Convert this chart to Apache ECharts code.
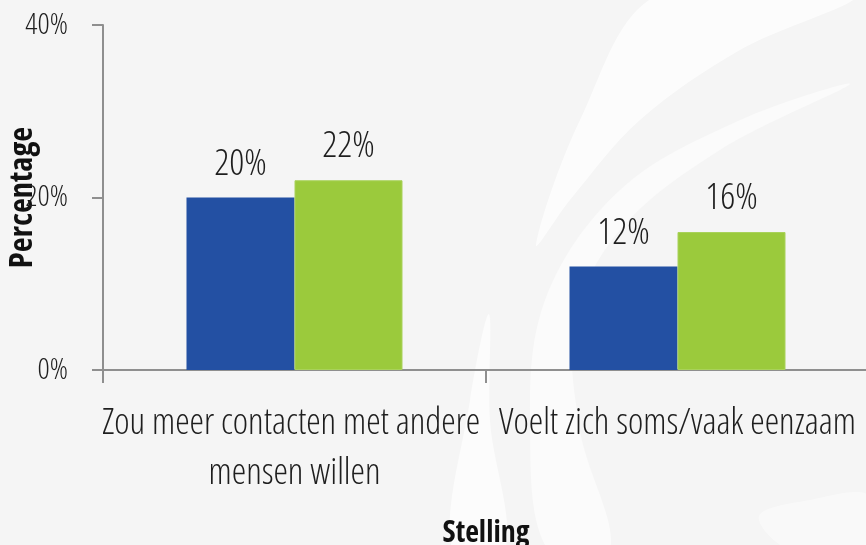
<!DOCTYPE html>
<html>
<head>
<meta charset="utf-8">
<script src="https://cdn.jsdelivr.net/npm/echarts@6/dist/echarts.min.js"></script>
<style>
  html, body { margin: 0; padding: 0; background: #f5f5f5; }
  #chart { width: 866px; height: 545px; }
</style>
</head>
<body>
<div id="chart"></div>
<script>
// categorieën en waarden (percentages)
const categories = ['Zou meer contacten met andere mensen willen', 'Voelt zich soms/vaak eenzaam'];
const blueValues = [20, 12];
const greenValues = [22, 16];
const yTicks = [0, 20, 40];

// Open Sans, smal gezet (condensed) via de font-shorthand
const FONT = '"Open Sans", sans-serif';
const LIGHT = '300 condensed';
const BOLD = 'bold condensed';
const TEXT = '#1e1e1e';
const AXIS = '#8f8f8f';

const chart = echarts.init(document.getElementById('chart'));

// vage achtergrond-watermerk
function swoosh(points, opacity) {
    return {
        type: 'polygon', z: -10, silent: true,
        shape: { points: points, smooth: 0.35 },
        style: { fill: '#ffffff', opacity: opacity }
    };
}

const option = {
    backgroundColor: '#f5f5f5',
    animation: false,
    graphic: [
        swoosh([[658, -5], [855, -5], [740, 50], [640, 120], [570, 200], [536, 245], [580, 120]], 0.7),
        swoosh([[850, 84], [720, 150], [620, 230], [575, 320], [580, 430], [610, 550], [548, 550], [530, 430], [545, 300], [620, 190], [740, 120]], 0.55),
        swoosh([[489, 314], [470, 400], [452, 550], [505, 550], [490, 420]], 0.65),
        swoosh([[759, 516], [810, 500], [870, 496], [870, 550], [790, 550]], 0.45)
    ],
    grid: {
        left: 103,
        right: -3,
        top: 25,
        bottom: 175,
        containLabel: false,
        outerBoundsMode: 'none'
    },
    xAxis: {
        type: 'category',
        data: categories,
        name: 'Stelling',
        nameLocation: 'middle',
        nameGap: 148,
        nameMoveOverlap: false,
        nameTextStyle: { fontFamily: FONT, fontWeight: BOLD, fontSize: 30, color: '#111' },
        axisLine: { lineStyle: { color: AXIS, width: 2 } },
        axisTick: { show: true, length: 13, lineStyle: { color: AXIS, width: 2 } },
        axisLabel: {
            interval: 0,
            margin: 29,
            width: 392,
            overflow: 'break',
            lineHeight: 50,
            fontFamily: FONT,
            fontWeight: LIGHT,
            fontSize: 36.5,
            color: TEXT
        }
    },
    yAxis: {
        type: 'value',
        min: 0,
        max: 40,
        interval: 20,
        name: 'Percentage',
        nameLocation: 'middle',
        nameGap: 64,
        nameMoveOverlap: false,
        nameRotate: 90,
        nameTextStyle: { fontFamily: FONT, fontWeight: BOLD, fontSize: 32.5, color: '#111' },
        axisLine: { show: true, lineStyle: { color: AXIS, width: 2 } },
        axisTick: { show: true, length: 11, lineStyle: { color: AXIS, width: 2 } },
        splitLine: { show: false },
        axisLabel: {
            margin: 35,
            formatter: function (v) { return yTicks.indexOf(v) >= 0 ? v + '%' : ''; },
            fontFamily: FONT,
            fontWeight: LIGHT,
            fontSize: 30,
            color: TEXT
        }
    },
    series: [
        {
            name: 'blauw',
            type: 'bar',
            data: blueValues,
            barGap: '0%',
            barCategoryGap: '43.6%',
            itemStyle: { color: '#2350a3' },
            label: {
                show: true, position: 'top', distance: 15,
                formatter: '{c}%', fontFamily: FONT, fontWeight: LIGHT, fontSize: 37, color: TEXT
            }
        },
        {
            name: 'groen',
            type: 'bar',
            data: greenValues,
            barGap: '0%',
            barCategoryGap: '43.6%',
            itemStyle: { color: '#9bca3c', borderColor: '#a9d25a', borderWidth: 1 },
            label: {
                show: true, position: 'top', distance: 15,
                formatter: '{c}%', fontFamily: FONT, fontWeight: LIGHT, fontSize: 37, color: TEXT
            }
        }
    ]
};

chart.setOption(option);
</script>
</body>
</html>
